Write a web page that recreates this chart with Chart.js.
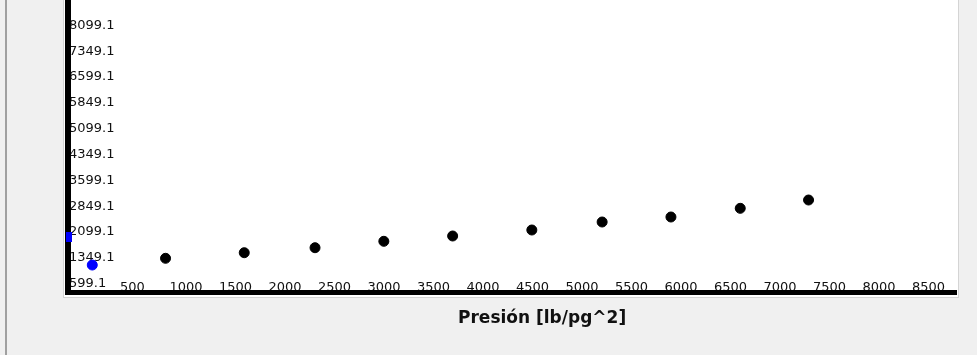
<!DOCTYPE html>
<html>
<head>
<meta charset="utf-8">
<script src="https://cdn.jsdelivr.net/npm/chart.js@4.4.1/dist/chart.umd.min.js"></script>
<style>
  html, body { margin: 0; padding: 0; background: #f0f0f0; }
  canvas { display: block; }
</style>
</head>
<body>
<canvas id="grafica" width="977" height="355"></canvas>
<script>
// datos
const presion = [960, 1755, 2470, 3165, 3860, 4660, 5370, 6065, 6765, 7455];
const valores = [1339, 1501, 1646, 1832, 1986, 2160, 2392, 2537, 2789, 3030];
const presionInicial = [220];
const valorInicial = [1144];
const presionMarca = [-17];
const valorMarca = [1966];

const xTicks = [500, 1000, 1500, 2000, 2500, 3000, 3500, 4000, 4500,
    5000, 5500, 6000, 6500, 7000, 7500, 8000, 8500];
const yTicks = [599.1, 1349.1, 2099.1, 2849.1, 3599.1, 4349.1,
    5099.1, 5849.1, 6599.1, 7349.1, 8099.1];
const xTitulo = 'Presión [lb/pg^2]';

function puntos(xs, ys) {
    return xs.map((x, i) => ({ x: x, y: ys[i] }));
}

// marca azul sobre el eje y
const marca = document.createElement('canvas');
marca.width = 6;
marca.height = 10;
const mctx = marca.getContext('2d');
mctx.fillStyle = '#0000ff';
mctx.fillRect(0, 0, 6, 10);

const fondo = {
    id: 'fondo',
    beforeDraw(chart) {
        const ctx = chart.ctx;
        const a = chart.chartArea;
        ctx.save();
        ctx.fillStyle = '#f0f0f0';
        ctx.fillRect(0, 0, chart.width, chart.height);
        ctx.fillStyle = '#a0a0a0';
        ctx.fillRect(5, 0, 2, chart.height);
        ctx.fillStyle = '#d4d4d4';
        ctx.fillRect(a.left - 5, 0, a.right - a.left + 7, a.bottom + 6);
        ctx.fillStyle = '#ffffff';
        ctx.fillRect(a.left - 4, 0, a.right - a.left + 5, a.bottom + 5);
        ctx.restore();
    },
    beforeDatasetsDraw(chart) {
        const ctx = chart.ctx;
        const a = chart.chartArea;
        ctx.save();
        ctx.fillStyle = '#000000';
        ctx.fillRect(a.left - 3, 0, 6, a.bottom + 3);
        ctx.fillRect(a.left - 3, a.bottom - 2, a.right - a.left + 3, 5);
        ctx.restore();
    }
};

function sinRelleno(scale) {
    scale.paddingTop = 0;
    scale.paddingBottom = 0;
    scale.paddingLeft = 0;
    scale.paddingRight = 0;
}

function renderScatter() {
    const ctx = document.getElementById('grafica').getContext('2d');
    new Chart(ctx, {
        type: 'scatter',
        data: {
            datasets: [{
                data: puntos(presion, valores),
                backgroundColor: '#000000',
                borderColor: '#000000',
                borderWidth: 1,
                pointRadius: 5,
                pointHoverRadius: 5
            }, {
                data: puntos(presionInicial, valorInicial),
                backgroundColor: '#0000ff',
                borderColor: '#0000ff',
                borderWidth: 1,
                pointRadius: 5,
                pointHoverRadius: 5
            }, {
                data: puntos(presionMarca, valorMarca),
                pointStyle: marca,
                clip: false
            }]
        },
        options: {
            responsive: false,
            animation: false,
            devicePixelRatio: 1,
            layout: {
                autoPadding: false,
                padding: { left: 0, right: 20, top: 0, bottom: 0 }
            },
            plugins: {
                legend: { display: false },
                tooltip: { enabled: false }
            },
            scales: {
                x: {
                    type: 'linear',
                    min: -25.25,
                    max: 8954.5,
                    grid: { display: false },
                    border: { display: false },
                    afterBuildTicks: scale => {
                        scale.ticks = xTicks.map(v => ({ value: v }));
                    },
                    afterFit: scale => {
                        scale.height = 63;
                        sinRelleno(scale);
                    },
                    ticks: {
                        mirror: true,
                        align: 'start',
                        padding: -3.6,
                        autoSkip: false,
                        maxRotation: 0,
                        color: '#111111',
                        font: { family: 'DejaVu Sans', size: 13 },
                        callback: v => String(v)
                    },
                    title: {
                        display: true,
                        text: '\u00a0'.repeat(10) + xTitulo,
                        color: '#111111',
                        font: { family: 'DejaVu Sans', size: 17, weight: 'bold' },
                        padding: { top: 0, bottom: 26 }
                    }
                },
                y: {
                    type: 'linear',
                    min: 361.2,
                    max: 8833,
                    grid: { display: false },
                    border: { display: false },
                    afterBuildTicks: scale => {
                        scale.ticks = yTicks.map(v => ({ value: v }));
                    },
                    afterFit: scale => {
                        scale.width = 68;
                        sinRelleno(scale);
                    },
                    ticks: {
                        mirror: true,
                        padding: 1,
                        autoSkip: false,
                        color: '#111111',
                        font: { family: 'DejaVu Sans', size: 13 },
                        callback: v => v.toFixed(1)
                    }
                }
            }
        },
        plugins: [fondo]
    });
}

window.onload = renderScatter;
</script>
</body>
</html>
